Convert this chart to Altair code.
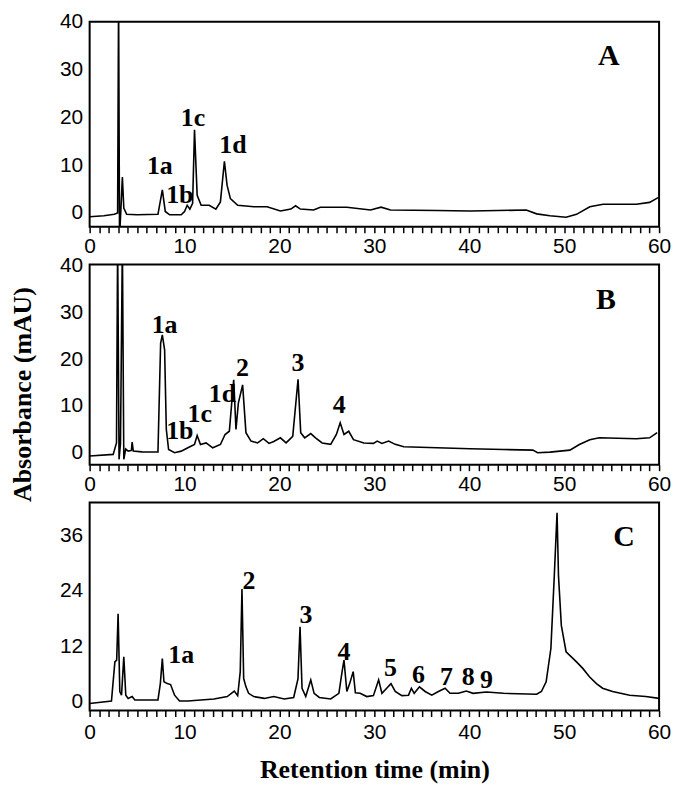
import altair as alt
import pandas as pd

# ---------------- Panel A trace (time min, absorbance mAU) ----------------
a_time = [0.0, 1.5, 2.6, 2.95, 3.05, 3.15, 3.3, 3.45, 3.6, 3.9, 5.0, 7.2, 7.66, 7.97,
          8.43, 9.65, 10.0, 10.28, 10.56, 10.85, 11.05, 11.33, 11.75, 12.6, 13.3, 13.78,
          14.2, 14.48, 14.83, 15.6, 17.3, 18.7, 20.1, 21.2, 21.7, 22.2, 23.6, 24.3, 27.1,
          29.6, 30.7, 31.7, 36.6, 40.1, 43.0, 46.0, 47.1, 48.5, 50.2, 51.3, 52.7, 54.1,
          57.6, 59.0, 59.9]
a_abs = [-0.8, -0.6, -0.3, 0.0, 45.0, -5.0, 1.0, 7.5, 1.0, -0.3, -0.4, -0.3, 4.8, 0.3,
         -0.4, -0.4, 0.3, 1.6, 0.8, 2.0, 17.4, 3.7, 1.6, 1.6, 0.8, 2.3,
         10.8, 5.8, 3.0, 1.6, 1.3, 1.3, 0.4, 0.8, 1.5, 0.8, 0.6, 1.2, 1.2,
         0.6, 1.2, 0.6, 0.5, 0.4, 0.5, 0.6, -0.2, -0.6, -0.9, -0.3, 1.3, 1.8,
         1.8, 2.2, 3.2]
a_lab_text = ["1a", "1b", "1c", "1d"]
a_lab_time = [7.4, 9.5, 10.9, 15.1]
a_lab_abs = [9.9, 3.7, 19.9, 14.1]

# ---------------- Panel B trace ----------------
b_time = [0.0, 2.48, 2.83, 2.95, 3.1, 3.25, 3.45, 3.6, 3.8, 4.06, 4.4, 4.48, 4.6, 5.5,
          7.2, 7.48, 7.66, 7.9, 8.08, 8.32, 8.95, 9.65, 10.35, 11.05, 11.33, 11.68,
          12.27, 12.97, 13.78, 14.27, 14.72, 15.18, 15.42, 15.67, 16.12, 16.47, 17.0,
          17.7, 18.3, 18.9, 19.4, 20.1, 20.7, 21.4, 21.96, 22.24, 22.66, 23.3, 23.8,
          24.5, 25.4, 26.0, 26.4, 26.8, 27.3, 27.8, 28.9, 29.9, 30.3, 30.8, 31.5, 32.2,
          33.1, 36.6, 40.1, 43.6, 46.7, 47.2, 48.5, 50.6, 51.6, 52.7, 53.7, 57.6, 59.0,
          59.8]
b_abs = [-0.7, -0.35, 2.1, 45.0, -1.4, 2.0, 45.0, -1.4, 0.8, 0.35, 0.5, 2.3, 0.35, 0.2,
         0.15, 23.4, 25.2, 22.0, 5.0, 0.7, 0.0, 0.35, 1.06, 1.77, 3.7, 1.77,
         2.1, 1.06, 1.77, 3.9, 4.6, 15.6, 5.0, 10.6, 14.5, 4.3, 2.5,
         2.1, 3.0, 2.0, 2.4, 3.2, 2.1, 3.5, 15.7, 4.3, 3.2, 4.1, 3.2,
         2.1, 1.8, 3.9, 6.4, 3.9, 4.6, 2.8, 2.1, 2.0, 2.5, 2.0, 2.5, 1.8,
         1.3, 1.06, 0.85, 0.7, 0.56, 0.0, 0.14, 0.56, 1.77, 2.8, 3.2, 3.0, 3.2,
         4.3]
b_lab_text = ["1a", "1b", "1c", "1d", "2", "3", "4"]
b_lab_time = [7.9, 9.5, 11.6, 14.0, 16.1, 21.96, 26.3]
b_lab_abs = [27.3, 4.6, 8.3, 12.6, 18.1, 19.1, 10.1]

# ---------------- Panel C trace ----------------
c_time = [0.0, 2.3, 2.66, 2.85, 3.0, 3.18, 3.36, 3.6, 3.81, 4.06, 4.48, 4.76, 7.2, 7.45,
          7.66, 7.83, 8.18, 8.53, 8.95, 9.47, 10.35, 13.1, 14.5, 15.24, 15.6, 15.87,
          16.05, 16.23, 16.47, 16.75, 17.3, 18.4, 19.4, 20.5, 21.5, 21.95, 22.17, 22.38,
          22.77, 23.3, 23.65, 24.2, 25.4, 26.26, 26.6, 26.8, 27.1, 27.4, 27.77, 28.0,
          28.5, 29.2, 29.9, 30.45, 30.8, 31.3, 31.75, 32.2, 32.9, 33.6, 33.9, 34.2,
          34.75, 35.35, 36.05, 36.75, 37.45, 37.97, 38.85, 39.7, 40.4, 41.8, 43.6, 47.1,
          47.6, 48.1, 48.6, 48.96, 49.25, 49.4, 49.7, 50.2, 51.3, 51.96, 52.66, 53.4,
          54.05, 55.1, 56.9, 58.6, 60.0]
c_abs = [-0.4, 0.14, 8.6, 9.0, 19.0, 2.2, 1.4, 9.7, 1.4, 0.7, 1.1, 0.36, 0.36, 3.9,
         9.3, 4.3, 3.9, 3.7, 1.4, 0.14, 0.14, 0.57, 1.1, 2.3, 1.3, 6.5,
         24.4, 5.0, 3.2, 1.8, 1.1, 0.7, 1.1, 0.57, 0.9, 4.9, 16.2, 2.9,
         1.1, 4.7, 1.8, 0.9, 0.57, 1.8, 6.5, 9.0, 2.2, 3.9, 6.5, 1.9,
         1.8, 1.1, 1.3, 4.7, 1.8, 2.9, 3.9, 2.2, 1.3, 1.4, 2.9, 1.8,
         3.2, 2.2, 1.4, 2.2, 2.9, 1.8, 1.8, 2.3, 1.8, 2.1, 1.8, 1.6,
         2.2, 4.3, 11.5, 27.3, 40.9, 27.3, 16.5, 10.8, 8.6, 7.2, 5.4, 3.9,
         2.9, 2.2, 1.4, 1.1, 0.7]
c_lab_text = ["1a", "2", "3", "4", "5", "6", "7", "8", "9"]
c_lab_time = [9.65, 16.8, 22.8, 26.8, 31.7, 34.65, 37.6, 39.9, 41.8]
c_lab_abs = [10.1, 26.2, 18.7, 10.8, 7.2, 5.7, 5.4, 5.4, 4.7]

panel_letters = ["A", "B", "C"]
letter_time = [54.7, 54.4, 56.3]
letter_abs = [32.8, 32.6, 35.6]

x_ticks = list(range(0, 61))
y_ticks_ab = [0, 10, 20, 30, 40]
y_ticks_c = [0, 12, 24, 36]

SERIF = "Liberation Serif"
SANS = "Liberation Sans"


def panel(times, vals, ltxt, lt, lv, letter, let_t, let_v, ydom, yvals, height,
          xtitle=None, ytitle=None, lab_pad=3):
    trace = pd.DataFrame({"t": times, "v": vals})
    labels = pd.DataFrame({"t": lt, "v": lv, "txt": ltxt})
    lett = pd.DataFrame({"t": [let_t], "v": [let_v], "txt": [letter]})

    xaxis_kw = dict(values=x_ticks,
                    labelExpr="datum.value % 10 == 0 ? datum.label : ''",
                    labelOverlap=False, tickSize=6, tickWidth=1.5, tickColor="black",
                    domain=False, grid=False, labelPadding=lab_pad, labelFlush=False,
                    labelFont=SANS, labelFontSize=21, labelColor="black")
    if xtitle:
        xaxis_kw.update(title=xtitle, titlePadding=14, titleFont=SERIF,
                        titleFontWeight="bold", titleFontSize=26, titleColor="black")
    else:
        xaxis_kw["title"] = None
    yaxis_kw = dict(values=yvals, ticks=False, domain=False, grid=False,
                    labelPadding=7, labelFont=SANS, labelFontSize=21,
                    labelColor="black")
    if ytitle:
        yaxis_kw.update(title=ytitle, titleX=-54, titleY=130, titleAngle=-90,
                        titleFont=SERIF, titleFontWeight="bold", titleFontSize=26,
                        titleColor="black")
    else:
        yaxis_kw["title"] = None

    x = alt.X("t:Q", scale=alt.Scale(domain=[0, 60], nice=False, zero=False),
              axis=alt.Axis(**xaxis_kw))
    y = alt.Y("v:Q", scale=alt.Scale(domain=ydom, nice=False, zero=False),
              axis=alt.Axis(**yaxis_kw))

    line = alt.Chart(trace).mark_line(color="black", strokeWidth=1.6, clip=True,
                                      interpolate="linear").encode(x=x, y=y)
    txt = alt.Chart(labels).mark_text(font=SERIF, fontWeight="bold", fontSize=26,
                                      color="black").encode(x=x, y=y, text="txt:N")
    let = alt.Chart(lett).mark_text(font=SERIF, fontWeight="bold", fontSize=30,
                                    color="black").encode(x=x, y=y, text="txt:N")
    return alt.layer(line, txt, let).properties(width=572, height=height)


pa = panel(a_time, a_abs, a_lab_text, a_lab_time, a_lab_abs, panel_letters[0],
           letter_time[0], letter_abs[0], [-2.9, 40], y_ticks_ab, 206)
pb = panel(b_time, b_abs, b_lab_text, b_lab_time, b_lab_abs, panel_letters[1],
           letter_time[1], letter_abs[1], [-2.55, 40.2], y_ticks_ab, 201,
           ytitle="Absorbance (mAU)")
pc = panel(c_time, c_abs, c_lab_text, c_lab_time, c_lab_abs, panel_letters[2],
           letter_time[2], letter_abs[2], [-1.94, 43.1], y_ticks_c, 209,
           xtitle="Retention time (min)", lab_pad=5)

chart = alt.vconcat(pa, pb, pc, spacing=38, bounds="flush").properties(
    padding={"left": 0, "top": 0, "right": 5, "bottom": 5},
    background="white"
).configure_view(
    stroke="black", strokeWidth=2
)

chart.save("out.html", embed_options={"renderer": "svg", "actions": False})
